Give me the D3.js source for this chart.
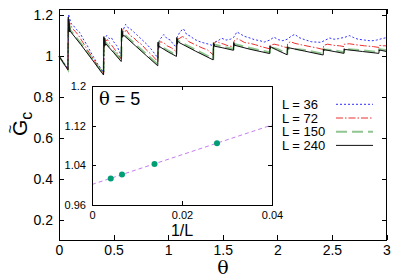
<!DOCTYPE html>
<head>
<meta charset="utf-8">
<script src="https://d3js.org/d3.v7.min.js"></script>
<style>
  body { margin: 0; background: #fff; }
  svg { font-family: "Liberation Sans", Arial, sans-serif; }
  .axis path { display: none; }
  .axis line { stroke: #000; shape-rendering: crispEdges; }
  .axis text { fill: #000; }
  .frame { fill: none; stroke: #000; shape-rendering: crispEdges; }
</style>
</head>
<body>
<script>

// main panel: G~c vs theta, one array of [theta, G] per system size
var L36 = [[0,1.000],[0.082,0.936],[0.086,1.120],[0.090,1.205],[0.094,1.160],[0.10,1.180],[0.11,1.160],[0.13,1.150],[0.16,1.130],[0.19,1.115],[0.22,1.085],[0.26,1.050],[0.30,1.010],[0.35,0.965],[0.409,0.920],
  [0.412,1.050],[0.425,1.095],[0.44,1.100],[0.46,1.085],[0.48,1.090],[0.50,1.070],[0.53,1.050],[0.571,1.000],
  [0.574,1.090],[0.59,1.130],[0.61,1.155],[0.63,1.140],[0.66,1.130],[0.69,1.115],[0.72,1.100],[0.76,1.080],[0.80,1.060],[0.85,1.030],[0.906,0.990],
  [0.909,1.060],[0.93,1.085],[0.96,1.105],[0.99,1.085],[1.02,1.078],[1.05,1.055],[1.077,1.045],
  [1.080,1.090],[1.11,1.120],[1.14,1.133],[1.17,1.105],[1.20,1.098],[1.24,1.082],[1.28,1.072],[1.32,1.065],[1.37,1.058],[1.413,1.050],
  [1.416,1.065],[1.45,1.072],[1.49,1.087],[1.53,1.078],[1.57,1.082],[1.601,1.092],[1.63,1.118],[1.66,1.108],[1.70,1.096],[1.75,1.088],[1.79,1.080],[1.84,1.075],[1.88,1.068],
  [1.93,1.078],[1.97,1.092],[2.01,1.080],[2.05,1.075],[2.09,1.082],[2.13,1.098],[2.16,1.106],[2.20,1.090],[2.25,1.080],[2.31,1.070],[2.36,1.068],[2.40,1.067],
  [2.44,1.078],[2.48,1.088],[2.52,1.082],[2.56,1.085],[2.62,1.092],[2.66,1.100],[2.70,1.090],[2.74,1.082],[2.80,1.078],[2.86,1.074],[2.91,1.078],[2.95,1.084],[3.00,1.090]];

var L72 = [[0,1.000],[0.082,0.934],[0.085,1.160],[0.088,1.140],[0.091,1.175],[0.095,1.150],[0.10,1.160],[0.12,1.135],[0.15,1.120],[0.18,1.100],[0.22,1.065],[0.26,1.030],[0.30,0.998],[0.35,0.955],[0.409,0.915],
  [0.412,1.070],[0.420,1.085],[0.430,1.075],[0.445,1.080],[0.46,1.065],[0.48,1.055],[0.50,1.040],[0.53,1.018],[0.571,0.985],
  [0.574,1.120],[0.585,1.130],[0.60,1.120],[0.62,1.125],[0.65,1.100],[0.68,1.092],[0.72,1.070],[0.76,1.055],[0.80,1.030],[0.85,1.005],[0.906,0.972],
  [0.909,1.055],[0.93,1.070],[0.96,1.065],[0.99,1.050],[1.03,1.040],[1.077,1.020],
  [1.080,1.080],[1.10,1.085],[1.13,1.095],[1.16,1.088],[1.19,1.070],[1.23,1.060],[1.27,1.050],[1.31,1.040],[1.36,1.030],[1.413,1.005],
  [1.416,1.060],[1.44,1.072],[1.47,1.065],[1.51,1.058],[1.55,1.050],[1.599,1.045],
  [1.602,1.072],[1.63,1.085],[1.66,1.078],[1.70,1.066],[1.75,1.062],[1.80,1.055],[1.86,1.045],[1.931,1.035],
  [1.934,1.052],[1.97,1.058],[2.02,1.052],[2.06,1.045],[2.091,1.040],
  [2.094,1.062],[2.12,1.070],[2.16,1.062],[2.22,1.055],[2.30,1.046],[2.36,1.040],[2.421,1.032],
  [2.424,1.052],[2.46,1.058],[2.52,1.052],[2.57,1.050],[2.611,1.046],
  [2.614,1.058],[2.66,1.060],[2.72,1.055],[2.80,1.050],[2.88,1.046],[2.931,1.042],
  [2.934,1.052],[2.97,1.050],[3.00,1.050]];

var L150 = [[0,1.000],[0.082,0.933],[0.085,1.180],[0.088,1.130],[0.090,1.170],[0.093,1.130],[0.097,1.150],[0.102,1.128],[0.20,1.062],[0.30,0.990],[0.409,0.910],
  [0.412,1.090],[0.415,1.058],[0.418,1.085],[0.422,1.060],[0.428,1.066],[0.50,1.023],[0.571,0.978],
  [0.574,1.130],[0.577,1.098],[0.580,1.122],[0.585,1.100],[0.592,1.108],[0.70,1.057],[0.80,1.010],[0.906,0.958],
  [0.909,1.066],[0.912,1.045],[0.916,1.060],[0.924,1.050],[1.00,1.026],[1.077,1.003],
  [1.080,1.088],[1.083,1.066],[1.087,1.080],[1.100,1.072],[1.25,1.030],[1.413,0.987],
  [1.416,1.066],[1.420,1.050],[1.426,1.056],[1.50,1.046],[1.599,1.034],
  [1.602,1.066],[1.606,1.054],[1.612,1.058],[1.75,1.039],[1.931,1.018],
  [1.934,1.050],[1.938,1.042],[2.00,1.034],[2.091,1.012],
  [2.094,1.046],[2.098,1.038],[2.25,1.030],[2.421,1.011],
  [2.424,1.038],[2.428,1.032],[2.52,1.028],[2.611,1.019],
  [2.614,1.038],[2.618,1.034],[2.78,1.028],[2.931,1.019],
  [2.934,1.034],[3.00,1.028]];

var L240 = [[0,1.000],[0.040,0.966],[0.082,0.932],
  [0.085,1.190],[0.087,1.120],[0.089,1.175],[0.091,1.125],[0.093,1.160],[0.095,1.118],[0.098,1.140],[0.102,1.122],
  [0.20,1.056],[0.30,0.985],[0.408,0.907],
  [0.411,1.095],[0.413,1.050],[0.415,1.088],[0.417,1.048],[0.420,1.078],[0.423,1.052],[0.428,1.060],
  [0.50,1.017],[0.570,0.973],
  [0.573,1.135],[0.575,1.090],[0.577,1.125],[0.579,1.092],[0.582,1.115],[0.585,1.095],[0.592,1.102],
  [0.70,1.050],[0.80,1.002],[0.905,0.952],
  [0.908,1.068],[0.910,1.040],[0.912,1.062],[0.914,1.038],[0.918,1.050],[0.924,1.045],
  [1.00,1.020],[1.076,0.998],
  [1.079,1.090],[1.081,1.060],[1.083,1.084],[1.085,1.058],[1.090,1.072],[1.100,1.066],
  [1.25,1.024],[1.412,0.981],
  [1.415,1.065],[1.417,1.042],[1.420,1.060],[1.425,1.048],
  [1.50,1.040],[1.598,1.028],
  [1.601,1.066],[1.603,1.048],[1.606,1.060],[1.612,1.052],
  [1.75,1.033],[1.930,1.012],
  [1.933,1.050],[1.936,1.036],[1.940,1.045],
  [2.00,1.028],[2.090,1.006],
  [2.093,1.045],[2.096,1.032],[2.100,1.041],
  [2.25,1.024],[2.420,1.005],
  [2.423,1.034],[2.427,1.026],[2.431,1.031],
  [2.52,1.022],[2.610,1.013],
  [2.613,1.036],[2.617,1.028],[2.621,1.032],
  [2.78,1.022],[2.930,1.013],
  [2.933,1.031],[2.937,1.025],[2.940,1.029],
  [3.00,1.022]];

var seriesNames = ["L = 36", "L = 72", "L = 150", "L = 240"];
var xTicks = [0, 0.5, 1, 1.5, 2, 2.5, 3];
var yTicks = [0.2, 0.4, 0.6, 0.8, 1, 1.2];

// inset: G~c at theta = 5 against 1/L, with linear fit
var invL = [0.00417, 0.00667, 0.01389, 0.02778];
var gInset = [1.0134, 1.0214, 1.0426, 1.0846];
var fitX = [0, 0.04];
var fitY = [1.0014, 1.1214];
var insetXTicks = [0, 0.02, 0.04];
var insetYTicks = [0.96, 1.04, 1.12, 1.2];

var styles = [
  {color: "#3030ff", dash: "2,2", width: 1, opacity: 1},
  {color: "#ee3030", dash: "7,2,1.5,2", width: 1, opacity: 1},
  {color: "#228b22", dash: "11,5", width: 2, opacity: 0.5},
  {color: "#111", dash: null, width: 1, opacity: 1}
];

var fmt = function(d) { return String(+d.toFixed(2)); };

var svg = d3.select("body").append("svg")
    .attr("width", 395)
    .attr("height", 276);

var x = d3.scaleLinear().domain([0, 3]).range([59, 386.5]);
var y = d3.scaleLinear().domain([0.1, 1.23]).range([240, 9]);

function styleAxis(g, size) {
  g.attr("font-size", size).attr("font-family", "Liberation Sans, Arial, sans-serif");
}

svg.append("g").attr("class", "axis")
    .attr("transform", "translate(59,0)")
    .call(d3.axisLeft(y).tickValues(yTicks).tickSize(-5).tickPadding(6).tickFormat(fmt))
    .call(styleAxis, 14);
svg.append("g").attr("class", "axis")
    .attr("transform", "translate(386.5,0)")
    .call(d3.axisRight(y).tickValues(yTicks).tickSize(-5).tickFormat(""));
svg.append("g").attr("class", "axis")
    .attr("transform", "translate(0,240)")
    .call(d3.axisBottom(x).tickValues(xTicks).tickSize(-5).tickPadding(5).tickFormat(fmt))
    .call(styleAxis, 14);
svg.append("g").attr("class", "axis")
    .attr("transform", "translate(0,9)")
    .call(d3.axisTop(x).tickValues(xTicks).tickSize(-5).tickFormat(""));

var line = d3.line()
    .x(function(d) { return x(d[0]); })
    .y(function(d) { return y(d[1]); });

[L36, L72, L150, L240].forEach(function(s, i) {
  svg.append("path")
      .datum(s)
      .attr("fill", "none")
      .attr("stroke", styles[i].color)
      .attr("stroke-width", styles[i].width)
      .attr("stroke-opacity", styles[i].opacity)
      .attr("stroke-dasharray", styles[i].dash)
      .attr("d", line);
});

svg.append("rect").attr("class", "frame")
    .attr("x", 59).attr("y", 9).attr("width", 327.5).attr("height", 231);

// legend
var legend = svg.selectAll(".legend")
    .data(seriesNames)
  .enter().append("g")
    .attr("class", "legend")
    .attr("transform", function(d, i) { return "translate(0," + (104.3 + i * 13.7) + ")"; });

legend.append("text")
    .attr("x", 282)
    .attr("dy", "0.35em")
    .attr("font-size", 13)
    .text(function(d) { return d; });

legend.append("line")
    .attr("x1", 336).attr("x2", 373)
    .attr("stroke", function(d, i) { return styles[i].color; })
    .attr("stroke-width", function(d, i) { return styles[i].width; })
    .attr("stroke-opacity", function(d, i) { return styles[i].opacity; })
    .attr("stroke-dasharray", function(d, i) { return styles[i].dash; });

// axis titles
svg.append("text")
    .attr("x", 223).attr("y", 274)
    .attr("text-anchor", "middle")
    .attr("font-family", "DejaVu Serif, serif")
    .attr("font-size", 19)
    .text("θ");

var yl = svg.append("g").attr("transform", "translate(27,126) rotate(-90)");
yl.append("text")
    .attr("x", -10).attr("y", 0)
    .attr("font-size", 21)
    .text("G")
  .append("tspan")
    .attr("dy", 5)
    .attr("font-size", 16)
    .text("c");
yl.append("text")
    .attr("x", -3).attr("y", -12)
    .attr("text-anchor", "middle")
    .attr("font-size", 15)
    .text("~");

// inset
var ix = d3.scaleLinear().domain([0, 0.04]).range([92, 272]);
var iy = d3.scaleLinear().domain([0.96, 1.2]).range([205, 86]);

svg.append("rect")
    .attr("x", 92).attr("y", 86).attr("width", 180).attr("height", 119)
    .attr("fill", "#fff");

svg.append("g").attr("class", "axis")
    .attr("transform", "translate(92,0)")
    .call(d3.axisLeft(iy).tickValues(insetYTicks).tickSize(-4).tickPadding(6).tickFormat(fmt))
    .call(styleAxis, 11);
svg.append("g").attr("class", "axis")
    .attr("transform", "translate(272,0)")
    .call(d3.axisRight(iy).tickValues(insetYTicks).tickSize(-4).tickFormat(""));
svg.append("g").attr("class", "axis")
    .attr("transform", "translate(0,205)")
    .call(d3.axisBottom(ix).tickValues(insetXTicks).tickSize(-4).tickPadding(6).tickFormat(fmt))
    .call(styleAxis, 11);
svg.append("g").attr("class", "axis")
    .attr("transform", "translate(0,86)")
    .call(d3.axisTop(ix).tickValues(insetXTicks).tickSize(-4).tickFormat(""));

svg.append("line")
    .attr("x1", ix(fitX[0])).attr("y1", iy(fitY[0]))
    .attr("x2", ix(fitX[1])).attr("y2", iy(fitY[1]))
    .attr("stroke", "#c77cf2")
    .attr("stroke-width", 1)
    .attr("stroke-dasharray", "4,3");

svg.selectAll(".dot")
    .data(invL)
  .enter().append("circle")
    .attr("class", "dot")
    .attr("r", 3)
    .attr("cx", function(d) { return ix(d); })
    .attr("cy", function(d, i) { return iy(gInset[i]); })
    .attr("fill", "#009e73");

svg.append("rect").attr("class", "frame")
    .attr("x", 92).attr("y", 86).attr("width", 180).attr("height", 119);

var it = svg.append("text")
    .attr("x", 99).attr("y", 105)
    .attr("font-size", 18);
it.append("tspan").attr("font-family", "DejaVu Serif, serif").text("θ");
it.append("tspan").text(" = 5");

svg.append("text")
    .attr("x", 182).attr("y", 236)
    .attr("text-anchor", "middle")
    .attr("font-size", 16)
    .text("1/L");

</script>
</body>
